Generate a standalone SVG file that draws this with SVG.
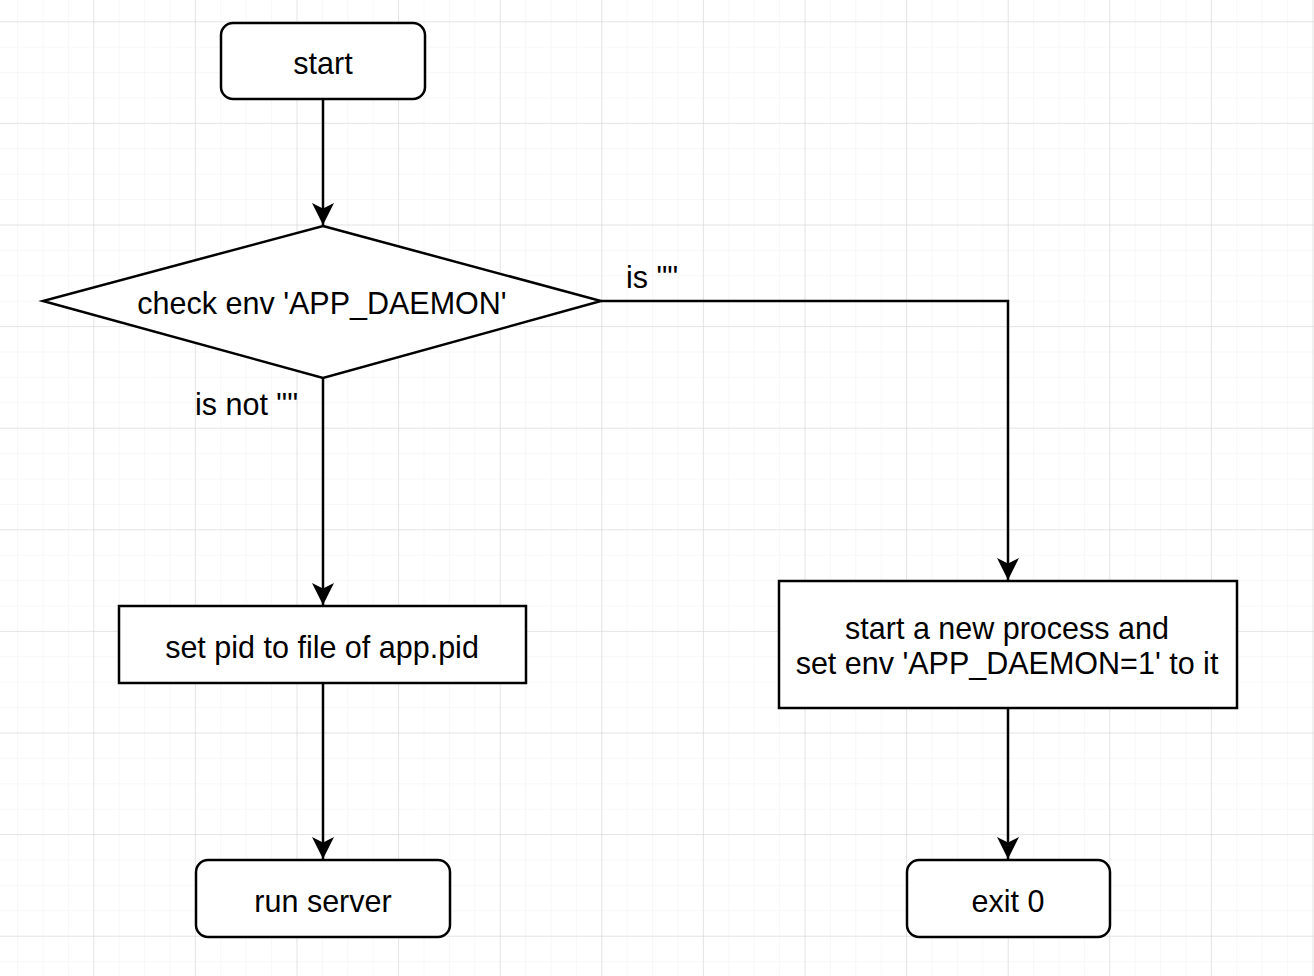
<svg xmlns="http://www.w3.org/2000/svg" width="1314" height="976" viewBox="0 0 1314 976">
<defs>
<pattern id="minor" x="93.3" y="21.3" width="25.4" height="25.4" patternUnits="userSpaceOnUse">
<path d="M0 0H25.4M0 0V25.4" fill="none" stroke="#f0f0f0" stroke-width="1"/>
</pattern>
<pattern id="major" x="93.3" y="21.3" width="101.6" height="101.6" patternUnits="userSpaceOnUse">
<path d="M0 0H101.6M0 0V101.6" fill="none" stroke="#d4d4d4" stroke-width="1"/>
</pattern>
<marker id="arrow" viewBox="0 0 22 22" refX="22" refY="11" markerWidth="22" markerHeight="22" markerUnits="userSpaceOnUse" orient="auto">
<path d="M0 0L22 11L0 22L5.5 11Z" fill="#000"/>
</marker>
</defs>
<style>
.node{fill:#fff;stroke:#000;stroke-width:2.5}
.edge{fill:none;stroke:#000;stroke-width:2.5;marker-end:url(#arrow)}
text{font-family:"Liberation Sans",Arial,sans-serif;font-size:30.5px;fill:#000}
.c{text-anchor:middle}
</style>
<rect width="1314" height="976" fill="#fff"/>
<rect width="1314" height="976" fill="url(#minor)"/>
<rect width="1314" height="976" fill="url(#major)"/>
<g id="connectors">
<path class="edge" d="M323 99V225"/>
<path class="edge" d="M323 378V605"/>
<path class="edge" d="M323 683V859"/>
<path class="edge" d="M601 301H1008V580"/>
<path class="edge" d="M1008 708V859"/>
<text x="626" y="288">is ""</text>
<text x="195" y="414.5">is not ""</text>
</g>
<g id="start">
<rect class="node" x="221" y="23" width="204" height="76" rx="12"/>
<text class="c" x="323" y="73.5">start</text>
</g>
<g id="check">
<path class="node" d="M323 226L601 301L323 378L43 301Z"/>
<text class="c" x="322" y="314">check env 'APP_DAEMON'</text>
</g>
<g id="setpid">
<rect class="node" x="119" y="606" width="407" height="77"/>
<text class="c" x="322" y="657.5">set pid to file of app.pid</text>
</g>
<g id="runserver">
<rect class="node" x="196" y="860" width="254" height="77" rx="12"/>
<text class="c" x="323" y="911.5">run server</text>
</g>
<g id="newprocess">
<rect class="node" x="779" y="581" width="458" height="127"/>
<text class="c" x="1007" y="638.5">start a new process and</text>
<text class="c" x="1007" y="673.5">set env 'APP_DAEMON=1' to it</text>
</g>
<g id="exit">
<rect class="node" x="907" y="860" width="203" height="77" rx="12"/>
<text class="c" x="1008" y="911.5">exit 0</text>
</g>
</svg>
